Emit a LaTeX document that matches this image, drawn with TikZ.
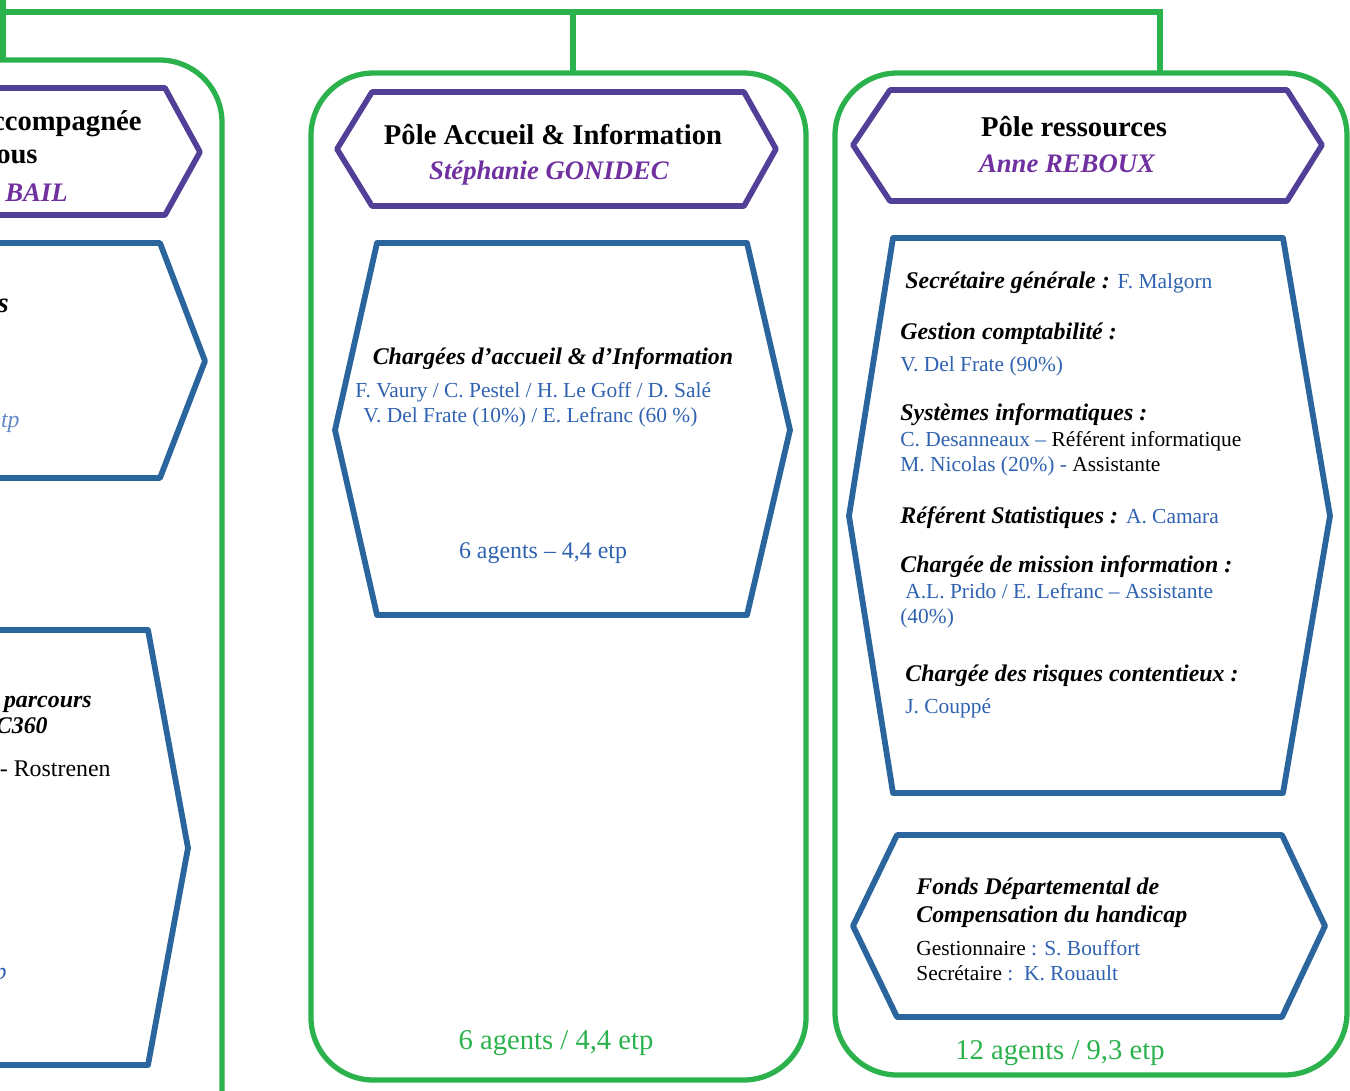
\documentclass[tikz,border=0pt]{standalone}
\usepackage{fontspec}
\setmainfont{Liberation Serif}
\definecolor{polegreen}{RGB}{43,178,76}
\definecolor{headpurple}{RGB}{82,63,152}
\definecolor{chefpurple}{RGB}{112,48,160}
\definecolor{unitblue}{RGB}{42,101,158}
\definecolor{nameblue}{RGB}{47,98,176}
\definecolor{etpblue}{RGB}{100,140,200}
\newcommand{\agent}[1]{{\normalfont\fontsize{12.2}{14.4}\selectfont\color{nameblue}#1}}

\begin{document}
\begin{tikzpicture}[x=0.02cm, y=-0.02cm,
    pole/.style={draw=polegreen, line width=3pt, rounded corners=1.25cm},
    link/.style={draw=polegreen, line width=3pt},
    head/.style={draw=headpurple, line width=3.2pt, line join=round},
    unit/.style={draw=unitblue, line width=3.3pt, line join=round},
    txt/.style={inner sep=0, yshift=-1.7pt},
    ptitle/.style={txt, font=\fontsize{16.3}{19}\selectfont\bfseries},
    chef/.style={txt, text=chefpurple, font=\fontsize{15.2}{18}\selectfont\bfseries\itshape},
    fn/.style={txt, anchor=mid west, font=\fontsize{13.6}{16}\selectfont\bfseries\itshape},
    who/.style={txt, anchor=mid west, text=nameblue, font=\fontsize{12.2}{14.4}\selectfont},
    tally/.style={txt, text=polegreen, font=\fontsize{16.3}{19}\selectfont}]
    \useasboundingbox (0,0) rectangle (1350,1090);
    \clip (0,0) rectangle (1350,1090);

    \coordinate (busW) at (-10,12);
    \coordinate (busE) at (1160,12);
    \coordinate (evalTop) at (3,60);
    \coordinate (accTop) at (573,73);
    \coordinate (resTop) at (1160,73);
    \draw[link] (busW) -- (busE) -- (resTop);
    \draw[link] (accTop) -- (accTop |- busE);
    \draw[link] (evalTop) -- ++(0,-70);

    \draw[pole] (-20,60) -- (222,60) -- (222,1120);
    \draw[pole] (311,73) rectangle (806,1080);
    \draw[pole] (835,73) rectangle (1347,1075);

    \draw[head] (-20,88) -- (165,88) -- (200,152) -- (165,215) -- (-20,215);
    \draw[head] (337,149) -- (372,92) -- (744,92) -- (776,149) -- (744,206) -- (372,206) -- cycle;
    \draw[head] (853,145) -- (890,90) -- (1287,90) -- (1322,145) -- (1287,201) -- (890,201) -- cycle;

    \draw[unit] (-20,243) -- (160,243) -- (205,361) -- (160,478) -- (-20,478);
    \draw[unit] (-20,630) -- (148,630) -- (188,848) -- (148,1065) -- (-20,1065);
    \draw[unit] (377,243) -- (747,243) -- (790,430) -- (747,615) -- (377,615) -- (335,430) -- cycle;
    \draw[unit] (893,238) -- (1283,238) -- (1330,516) -- (1283,793) -- (893,793) -- (849,516) -- cycle;
    \draw[unit] (897,835) -- (1282,835) -- (1325,926) -- (1282,1017) -- (897,1017) -- (853,926) -- cycle;

    \node[ptitle, anchor=mid east] (evalT1) at (142,123) {ccompagnée};
    \node[ptitle, anchor=mid east] (evalT2) at (38,156) {ous};
    \node[chef, anchor=mid east] (evalChef) at (68,194) {BAIL};
    \node[ptitle, font=\fontsize{16.3}{19}\selectfont\bfseries\itshape, anchor=mid east] (evalU1) at (9,305) {s};
    \node[txt, anchor=mid east, text=etpblue, font=\fontsize{13.6}{16}\selectfont\itshape] (evalU1n) at (20,420) {etp};
    \node[fn, anchor=mid east] (evalU2a) at (92,700) {parcours};
    \node[fn, anchor=mid east] (evalU2b) at (48,726) {C360};
    \node[txt, anchor=mid east, font=\fontsize{13.6}{16}\selectfont] (evalU2c) at (111,769) {- Rostrenen};
    \node[txt, anchor=mid east, text=nameblue, font=\fontsize{13.6}{16}\selectfont\itshape] (evalU2n) at (7,972) {p};

    \node[ptitle] (accT) at (553,132) {Pôle Accueil \& Information};
    \node[chef] (accChef) at (549,170) {Stéphanie GONIDEC};
    \node[fn, anchor=mid] (accU) at (553,357) {Chargées d’accueil \& d’Information};
    \node[who] (accU1) at (355,390) {F. Vaury / C. Pestel / H. Le Goff / D. Salé};
    \node[who] (accU2) at (363,415) {V. Del Frate (10\%) / E. Lefranc (60 \%)};
    \node[who, anchor=mid, font=\fontsize{13.6}{16}\selectfont] (accUn) at (543,551) {6 agents – 4,4 etp};
    \node[tally] (accN) at (556,1040) {6 agents / 4,4 etp};

    \node[ptitle] (resT) at (1074,124) {Pôle ressources};
    \node[chef] (resChef) at (1067,161) {Anne REBOUX};
    \node[fn] (resSg) at (905,281) {Secrétaire générale : \agent{F. Malgorn}};
    \node[fn] (resCpt) at (900,332) {Gestion comptabilité :};
    \node[who] (resCpt1) at (900,364) {V. Del Frate (90\%)};
    \node[fn] (resSi) at (900,413) {Systèmes informatiques :};
    \node[who] (resSi1) at (900,439) {C. Desanneaux – \textcolor{black}{Référent informatique}};
    \node[who] (resSi2) at (900,464) {M. Nicolas (20\%) - \textcolor{black}{Assistante}};
    \node[fn] (resStat) at (900,516) {Référent Statistiques : \agent{A. Camara}};
    \node[fn] (resMi) at (900,565) {Chargée de mission information :};
    \node[who] (resMi1) at (905,591) {A.L. Prido / E. Lefranc – Assistante};
    \node[who] (resMi2) at (900,616) {(40\%)};
    \node[fn] (resRc) at (905,674) {Chargée des risques contentieux :};
    \node[who] (resRc1) at (905,706) {J. Couppé};
    \node[fn] (fdcT1) at (916,887) {Fonds Départemental de};
    \node[fn] (fdcT2) at (916,915) {Compensation du handicap};
    \node[who] (fdcG) at (916,948) {\textcolor{black}{Gestionnaire} : S. Bouffort};
    \node[who] (fdcS) at (916,973) {\textcolor{black}{Secrétaire} :\ \ K. Rouault};
    \node[tally] (resN) at (1060,1050) {12 agents / 9,3 etp};
\end{tikzpicture}
\end{document}
